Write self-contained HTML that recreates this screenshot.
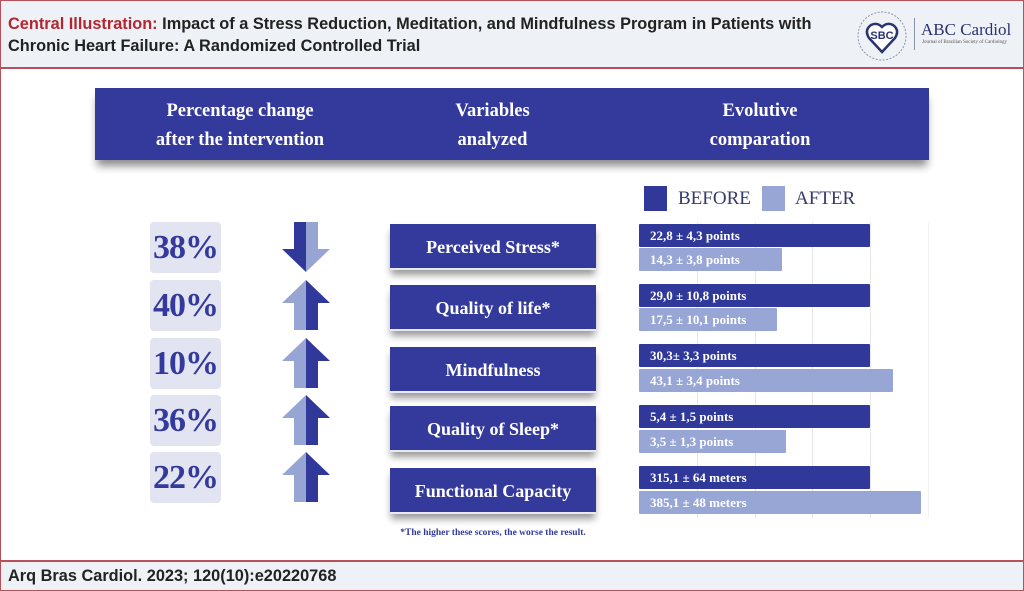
<!DOCTYPE html>
<html><head><meta charset="utf-8"><style>
*{margin:0;padding:0;box-sizing:border-box}
body{width:1024px;height:591px;position:relative;background:#fff;font-family:"Liberation Serif",serif;overflow:hidden}
.a{position:absolute}
.hdr{left:0;top:0;width:1024px;height:69px;background:#eef2f6;border:1px solid #b8505a;border-bottom:2px solid #b8505a}
.ftr{left:0;top:560px;width:1024px;height:31px;background:#eef2f6;border:1px solid #b8505a;border-top:2px solid #b8505a}
.side{top:68px;width:1px;height:493px;background:#b8505a}
.ttl{left:8px;top:13px;font-family:"Liberation Sans",sans-serif;font-weight:bold;font-size:17px;line-height:22px;color:#222;transform:scaleX(0.96);transform-origin:left;white-space:nowrap}
.ttl b{color:#b4262f}
.ban{left:95px;top:88px;width:834px;height:72px;background:#343a9c;box-shadow:0 8px 8px -2px rgba(0,0,0,.45)}
.bt{color:#fff;font-weight:bold;font-size:18.5px;line-height:29px;text-align:center;top:97px}
.pc{left:150px;width:71px;height:51px;background:#e3e4f2;border-radius:4px;color:#343a9c;font-weight:bold;font-size:34px;line-height:51px;text-align:center;letter-spacing:-1px}
.vb{left:390px;width:206px;height:46px;background:#343a9c;color:#fff;font-weight:bold;font-size:18px;line-height:46px;text-align:center;box-shadow:0 6px 7px -1px rgba(0,0,0,.4);border-bottom:2px solid #e7e9f5}
.bar{left:639px;height:23px;color:#fff;font-weight:bold;font-size:13px;line-height:23px;padding-left:11px;border-radius:1px}
.d{background:#30389a}.l{background:#98a6d6}
.g{top:222px;width:1px;height:296px;background:#e6e6ec}
</style></head><body>
<div class="a hdr"></div>
<div class="a ttl"><b>Central Illustration:</b> Impact of a Stress Reduction, Meditation, and Mindfulness Program in Patients with<br>Chronic Heart Failure: A Randomized Controlled Trial</div>
<svg class="a" style="left:852px;top:8px" width="60" height="56" viewBox="0 0 60 56">
<circle cx="30" cy="28" r="24" fill="none" stroke="#8b93a8" stroke-width="1" stroke-dasharray="2 1.5"/>
<path d="M30 44 L17 30 Q12 22 19 17 Q25 14 30 19 Q35 14 41 17 Q48 22 43 30 Z" fill="#fff" stroke="#2a3270" stroke-width="2.5"/>
<text x="30" y="31" font-family="Liberation Sans" font-weight="bold" font-size="11" fill="#2a3270" text-anchor="middle">SBC</text>
</svg>
<div class="a" style="left:914px;top:18px;width:1px;height:32px;background:#8b93a8"></div>
<div class="a" style="left:921px;top:20px;font-size:17px;color:#2a3270;font-family:'Liberation Serif',serif">ABC Cardiol</div>
<div class="a" style="left:922px;top:40px;font-size:5px;color:#555">Journal of Brazilian Society of Cardiology</div>

<div class="a side" style="left:0"></div><div class="a side" style="left:1023px"></div>

<div class="a ban"></div>
<div class="a bt" style="left:130px;width:220px">Percentage change<br>after the intervention</div>
<div class="a bt" style="left:400px;width:185px">Variables<br>analyzed</div>
<div class="a bt" style="left:660px;width:200px">Evolutive<br>comparation</div>

<div class="a d" style="left:644px;top:186px;width:23px;height:25px"></div>
<div class="a" style="left:678px;top:188px;font-size:19px;color:#343a6c">BEFORE</div>
<div class="a l" style="left:762px;top:186px;width:23px;height:25px"></div>
<div class="a" style="left:795px;top:188px;font-size:19px;color:#343a6c">AFTER</div>

<div class="a pc" style="top:222px">38%</div>
<div class="a pc" style="top:280px">40%</div>
<div class="a pc" style="top:338px">10%</div>
<div class="a pc" style="top:395px">36%</div>
<div class="a pc" style="top:452px">22%</div>

<svg class="a" style="left:280px;top:222px" width="52" height="290" viewBox="0 0 52 290">
<defs>
<g id="up"><polygon points="26,0 2,23 14,23 14,50 26,50" fill="#97a5d5"/><polygon points="26,0 50,23 38,23 38,50 26,50" fill="#30389a"/></g>
</defs>
<polygon points="26,50 2,27 14,27 14,0 26,0" fill="#30389a"/><polygon points="26,50 50,27 38,27 38,0 26,0" fill="#97a5d5"/>
<use href="#up" y="58"/><use href="#up" y="116"/><use href="#up" y="173"/><use href="#up" y="230"/>
</svg>

<div class="a vb" style="top:224px">Perceived Stress*</div>
<div class="a vb" style="top:285px">Quality of life*</div>
<div class="a vb" style="top:347px">Mindfulness</div>
<div class="a vb" style="top:406px">Quality of Sleep*</div>
<div class="a vb" style="top:468px">Functional Capacity</div>
<div class="a" style="left:380px;top:528px;width:226px;text-align:center;font-size:9.5px;font-weight:bold;color:#343a9c">*The higher these scores, the worse the result.</div>

<div class="a g" style="left:697px"></div><div class="a g" style="left:755px"></div><div class="a g" style="left:812px"></div><div class="a g" style="left:870px"></div><div class="a g" style="left:928px;background:#f2f2f5"></div>

<div class="a bar d" style="top:224px;width:231px">22,8 ± 4,3 points</div>
<div class="a bar l" style="top:248px;width:143px">14,3 ± 3,8 points</div>
<div class="a bar d" style="top:284px;width:231px">29,0 ± 10,8 points</div>
<div class="a bar l" style="top:308px;width:138px">17,5 ± 10,1 points</div>
<div class="a bar d" style="top:344px;width:231px">30,3± 3,3 points</div>
<div class="a bar l" style="top:369px;width:254px">43,1 ± 3,4 points</div>
<div class="a bar d" style="top:405px;width:231px">5,4 ± 1,5 points</div>
<div class="a bar l" style="top:430px;width:147px">3,5 ± 1,3 points</div>
<div class="a bar d" style="top:466px;width:231px">315,1 ± 64 meters</div>
<div class="a bar l" style="top:491px;width:282px">385,1 ± 48 meters</div>

<div class="a ftr"></div>
<div class="a" style="left:8px;top:566px;font-family:'Liberation Sans',sans-serif;font-weight:bold;font-size:17px;color:#222;transform:scaleX(0.96);transform-origin:left;white-space:nowrap">Arq Bras Cardiol. 2023; 120(10):e20220768</div>
</body></html>
